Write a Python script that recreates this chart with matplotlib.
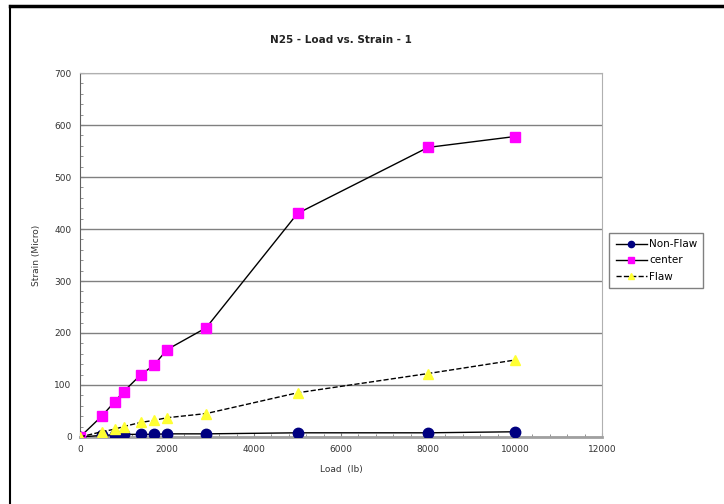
import matplotlib
matplotlib.use("Agg")
import matplotlib.pyplot as plt
from matplotlib.lines import Line2D
from matplotlib.ticker import MultipleLocator

# load steps (lb) and strain readings (micro)
load = [0, 500, 800, 1000, 1400, 1700, 2000, 2900, 5000, 8000, 10000]
non_flaw = [0, 3, 4, 5, 5, 5, 6, 6, 8, 8, 10]
center = [0, 40, 68, 87, 120, 138, 168, 210, 430, 557, 578]
flaw = [0, 10, 15, 20, 28, 32, 37, 45, 85, 122, 148]

fig = plt.figure(figsize=(7.24, 5.04), dpi=100)
ax = fig.add_axes([0.1105, 0.133, 0.7210, 0.722])

ax.plot(load, non_flaw, color="black", lw=1, marker="o", ms=7.5,
        mfc="#000080", mec="#000080", label="Non-Flaw", zorder=3)
ax.plot(load, center, color="black", lw=1, marker="s", ms=7.5,
        mfc="#ff00ff", mec="#ff00ff", label="center", zorder=3)
ax.plot(load, flaw, color="black", lw=1, ls="--", marker="^", ms=7.5,
        mfc="#ffff33", mec="#ffff33", label="Flaw", zorder=3)

ax.set_xlim(0, 12000)
ax.set_ylim(0, 700)
ax.xaxis.set_major_locator(MultipleLocator(2000))
ax.xaxis.set_minor_locator(MultipleLocator(400))
ax.yaxis.set_major_locator(MultipleLocator(100))
ax.yaxis.set_minor_locator(MultipleLocator(20))
ax.grid(axis="y", which="major", color="#808080", lw=1)
ax.set_axisbelow(True)

for side in ["top", "right"]:
    ax.spines[side].set_color("#b0b0b0")
ax.spines["left"].set_color("#606060")
ax.spines["bottom"].set_color("#a0a0a0")
ax.spines["bottom"].set_linewidth(2)
ax.tick_params(which="both", direction="in", length=3, color="#808080",
               labelsize=6.5, labelcolor="#333333", pad=6)
ax.tick_params(which="minor", length=2)

ax.set_xlabel("Load  (lb)", fontsize=6.5, color="#333333", labelpad=8)
ax.set_ylabel("Strain (Micro)", fontsize=6.5, color="#333333", labelpad=10)
ax.set_title("N25 - Load vs. Strain - 1", fontsize=7.5, fontweight="bold",
             color="#222222", pad=22)

leg = ax.legend(loc="center left", bbox_to_anchor=(1.004, 0.485),
                fontsize=7.5, frameon=True, fancybox=False, handlelength=3,
                handletextpad=0.2, borderpad=0.6, labelspacing=0.6,
                markerscale=0.6)
leg.get_frame().set_edgecolor("#606060")

# outer border, top and left
fig.add_artist(Line2D([10 / 724, 1], [1 - 6 / 504, 1 - 6 / 504],
                      color="black", lw=2.5, transform=fig.transFigure))
fig.add_artist(Line2D([10 / 724, 10 / 724], [0, 1 - 6 / 504],
                      color="black", lw=1.5, transform=fig.transFigure))

fig.savefig("out.png", dpi=100)
